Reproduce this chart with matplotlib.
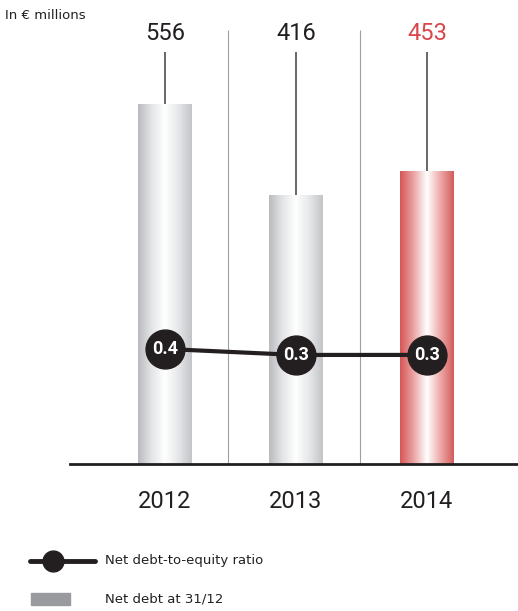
import numpy as np
import matplotlib.pyplot as plt
from matplotlib.colors import LinearSegmentedColormap

years = ["2012", "2013", "2014"]
net_debt = [556, 416, 453]
ratio = [0.4, 0.3, 0.3]
value_colors = ["#231f20", "#231f20", "#d9474d"]

NUM_FONT = ["Roboto", "DejaVu Sans"]

grey_cm = LinearSegmentedColormap.from_list(
    "grey_bar", ["#babbbe", "#e4e5e7", "#ffffff", "#e6e7e9", "#c3c4c7"])
red_cm = LinearSegmentedColormap.from_list(
    "red_bar", ["#d65656", "#eba3a3", "#ffffff", "#eda9a9", "#d45c5c"])

fig = plt.figure(figsize=(5.18, 6.11), dpi=100)
ax = fig.add_axes([0.135, 0.2406, 0.865, 0.7414])
x = np.arange(len(years))
ax.set_xlim(-0.725, 2.695)
ax.set_ylim(0, 700)

bars = ax.bar(x, net_debt, width=0.405, color="none", edgecolor="none", zorder=2)
grad = np.linspace(0, 1, 256).reshape(1, -1)
for i, b in enumerate(bars):
    cm = red_cm if i == 2 else grey_cm
    x0, w, h = b.get_x(), b.get_width(), b.get_height()
    im = ax.imshow(grad, cmap=cm, aspect="auto", extent=(x0, x0 + w, 0, h), zorder=2)
    im.set_clip_path(b)

# separators between years
for sx in [0.48, 1.49]:
    ax.vlines(sx, 0, 670, color="#a0a0a0", lw=0.8, zorder=1)

# value labels with leader lines
for i, v in enumerate(net_debt):
    ax.vlines(x[i], v, 636, color="#666666", lw=1.4, zorder=1)
    ax.text(x[i], 666, str(v), ha="center", va="center", fontsize=17,
            color=value_colors[i], family=NUM_FONT)

ax.set_xticks(x)
ax.set_xticklabels(years, fontsize=17, family=NUM_FONT, color="#231f20")
ax.tick_params(axis="x", length=0, pad=19)
ax.set_yticks([])
for s in ["top", "right", "left"]:
    ax.spines[s].set_visible(False)
ax.spines["bottom"].set_linewidth(2)
ax.spines["bottom"].set_color("#231f20")

# ratio on its own scale
ax2 = ax.twinx()
ax2.set_ylim(-1.517, 6.03)
ax2.axis("off")
ax2.plot(x, ratio, color="#231f20", lw=3, marker="o", ms=28, zorder=3)
for i, r in enumerate(ratio):
    ax2.text(x[i], r, f"{r:.1f}", ha="center", va="center", color="white",
             fontsize=13, fontweight="bold", family=NUM_FONT, zorder=4)

fig.text(0.01, 0.975, "In € millions", fontsize=9.5, color="#231f20", va="center")

# legend
lax = fig.add_axes([0, 0, 1, 0.13])
lax.set_xlim(0, 518)
lax.set_ylim(0, 79.4)
lax.axis("off")
lax.plot([30, 95], [50, 50], color="#231f20", lw=3.5, solid_capstyle="round")
lax.plot([53], [50], "o", color="#231f20", ms=15)
lax.text(105, 50, "Net debt-to-equity ratio", fontsize=9.5, va="center", color="#231f20")
lax.add_patch(plt.Rectangle((31, 6), 39, 12, color="#999a9e"))
lax.text(105, 12, "Net debt at 31/12", fontsize=9.5, va="center", color="#231f20")

fig.savefig("out.png", dpi=100)
